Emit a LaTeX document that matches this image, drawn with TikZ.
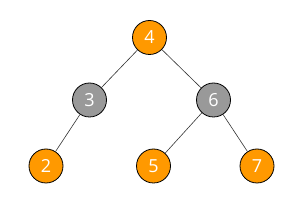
\documentclass[tikz,border=0pt]{standalone}
\usepackage{fontspec}
\setmainfont{Open Sans}
\definecolor{orng}{HTML}{FF9900}
\definecolor{gry}{HTML}{999999}
\begin{document}
\begin{tikzpicture}[x=1pt,y=-1pt,
  vtx/.style={circle,draw=black,line width=0.8pt,minimum size=34pt,inner sep=0pt,text=white,font=\fontsize{18}{18}\selectfont},
  onode/.style={vtx,fill=orng},
  gnode/.style={vtx,fill=gry},
  edge/.style={draw=black!80,line width=0.6pt}]
\useasboundingbox (0,0) rectangle (300,200);
\node[onode] (n4) at (149.5,37.5) {4};
\node[gnode] (n3) at (89.5,100) {3};
\node[gnode] (n6) at (213.5,100) {6};
\node[onode] (n2) at (46,166) {2};
\node[onode] (n5) at (153.5,166) {5};
\node[onode] (n7) at (257,166) {7};
\draw[edge] (n4) -- (n3);
\draw[edge] (n4) -- (n6);
\draw[edge] (n3) -- (n2);
\draw[edge] (n6) -- (n5);
\draw[edge] (n6) -- (n7);
\end{tikzpicture}
\end{document}
